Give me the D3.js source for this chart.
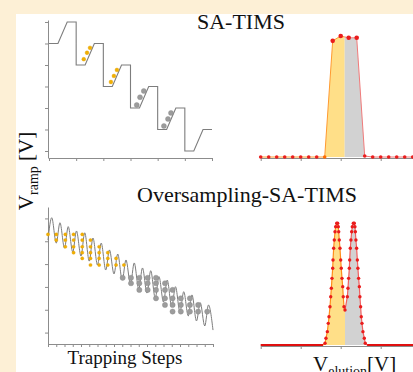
<!DOCTYPE html>
<html>
<head>
<meta charset="utf-8">
<script src="https://cdn.jsdelivr.net/npm/d3@7"></script>
<style>
  body { margin: 0; background: #fdf0d6; }
  svg { display: block; }
  text { font-family: "Liberation Serif", "Times New Roman", serif; fill: #111; }
</style>
</head>
<body>
<svg id="chart" width="413" height="372"></svg>
<script>
// ---- data ----

// SA-TIMS ramp (top left), x = trapping step, y = ramp level
const stairX = [0, 0.33, 0.67, 1, 1, 1.33, 1.67, 2, 2, 2.33, 2.67, 3, 3, 3.33, 3.67, 4, 4, 4.33, 4.67, 5, 5, 5.33, 5.67, 6]
const stairY = [5, 5, 6, 6, 4, 4, 5, 5, 3, 3, 4, 4, 2, 2, 3, 3, 1, 1, 2, 2, 0, 0, 1, 1]
const stairOrangeX = [1.28, 1.40, 1.51, 2.28, 2.39, 2.50]
const stairOrangeY = [4.27, 4.57, 4.80, 3.21, 3.49, 3.77]
const stairGrayX = [3.23, 3.35, 3.49, 4.23, 4.38, 4.49]
const stairGrayY = [2.14, 2.50, 2.79, 1.16, 1.49, 1.77]

// SA-TIMS elution (top right)
const satX = [0, 1, 2, 3, 4, 5, 6, 7, 8, 9, 10, 11, 12, 13, 14, 15, 16, 17, 18, 19]
const satY = [0, 0, 0, 0, 0, 0, 0, 0, 0, 96, 100, 98.5, 98.5, 0.8, 0, 0, 0, 0, 0, 0]
const satSplit = 10.5

// Oversampling ramp (bottom left): troughs at each step, peaks in between
const waveTrough = [4.05, 3.92, 3.70, 3.53, 3.35, 3.13, 2.96, 2.74, 2.57, 2.30, 2.13, 1.91, 1.73, 1.51, 1.34, 1.12, 0.90, 0.73, 0.51, 0.29, 0.11]
const wavePeak = [5.03, 4.81, 4.64, 4.45, 4.37, 4.14, 3.92, 3.62, 3.44, 3.18, 3.05, 2.83, 2.71, 2.45, 2.30, 2.01, 1.79, 1.65, 1.31, 1.21]
const peakOffset = 0.45

const orangeColX = [0, 1, 2.1, 3.1, 4.15, 5.15, 6.2, 7.25, 8.25, 9.2]
const orangeRows = [4.30, 4.05, 3.76, 3.50, 3.25, 2.96]
const orangeFrom = [0, 0, 0, 0, 0, 1, 2, 3, 4, 5]
const orangeTo = [0, 1, 2, 3, 4, 5, 5, 5, 5, 5]

const grayColX = [9.05, 10.06, 11.07, 12.08, 13.09, 14.18, 15.1, 16.1, 17.2, 18.2, 19.3]
const grayRows = [2.40, 2.16, 1.87, 1.50, 1.21, 0.92]
const grayFrom = [0, 0, 0, 0, 0, 1, 2, 3, 3, 4, 5]
const grayTo = [0, 1, 2, 2, 3, 4, 5, 5, 5, 5, 5]

// Oversampling elution (bottom right)
const ovsX = [0, 7.79, 8.04, 8.16, 8.33, 8.45, 8.54, 8.66, 8.75, 8.83, 8.91, 9.0, 9.04, 9.12, 9.2, 9.29, 9.37, 9.5, 9.62, 9.7, 9.75, 9.82, 9.91, 10.0, 10.07, 10.16, 10.25, 10.32, 10.41,
  10.54, 10.83, 10.91, 10.99, 11.08, 11.12, 11.2, 11.28, 11.37, 11.45, 11.58, 11.70, 11.78, 11.83, 11.9, 11.99, 12.08, 12.15, 12.24, 12.33, 12.4, 12.49, 12.57, 12.66, 12.78, 12.95, 13.07, 13.3, 19.5]
const ovsY = [0, 0, 1.4, 5.5, 10.9, 17.7, 23.1, 31.3, 39.5, 46.4, 54.5, 62.7, 69.5, 79.1, 85.9, 92.6, 96.7, 99.5, 99.5, 96.7, 92.6, 85.9, 79.1, 69.5, 62.7, 54.5, 47.7, 39.5, 31.3,
  28.6, 39.5, 46.4, 54.5, 62.7, 69.5, 79.1, 85.9, 92.6, 96.7, 99.5, 99.5, 96.7, 92.6, 85.9, 79.1, 69.5, 62.7, 54.5, 47.7, 39.5, 31.3, 23.1, 17.7, 10.9, 5.5, 1.4, 0, 0]
const ovsSplit = 10.54

// ticks
const stairTicksX = [0, 1, 2, 3, 4, 5, 6]
const stairTicksY = [0, 1, 2, 3, 4, 5, 6]
const waveTicksX = [0, 1, 2, 3, 4, 5, 6, 7, 8, 9, 10, 11, 12, 13, 14, 15, 16, 17, 18, 19, 20]
const waveTicksY = [0, 1, 2, 3, 4, 5]
const elutionTicks = [0, 5, 10, 15]

// ---- drawing ----
const axisColor = "#8c8c8c"
const lineGray = "#7d7d7d"
const orange = "#f2b000"
const orangeFill = "#ffdf88"
const grayFill = "#d2d2d2"
const red = "#ea1c1c"

const svg = d3.select("#chart")

// white panel
svg.append("rect").attr("x", 16).attr("y", 14).attr("width", 397).attr("height", 358).attr("fill", "#fff")

function styleAxis(g) {
  g.select(".domain").attr("stroke", axisColor)
  g.selectAll(".tick line").attr("stroke", axisColor)
}

// top left: SA-TIMS ramp
const x1 = d3.scaleLinear().domain([0, 6]).range([49, 212])
const y1 = d3.scaleLinear().domain([-0.326, 6.093]).range([158, 20])

svg.append("g").attr("transform", "translate(0,158)")
  .call(d3.axisBottom(x1).tickValues(stairTicksX).tickSize(3).tickSizeOuter(0).tickFormat(""))
  .call(styleAxis)
svg.append("g").attr("transform", "translate(48,0)")
  .call(d3.axisLeft(y1).tickValues(stairTicksY).tickSize(3).tickSizeOuter(0).tickFormat(""))
  .call(styleAxis)

const stairLine = d3.line().x(d => x1(d[0])).y(d => y1(d[1]))
svg.append("path")
  .attr("d", stairLine(d3.zip(stairX, stairY)))
  .attr("fill", "none").attr("stroke", lineGray).attr("stroke-width", 1.1)

svg.selectAll("circle.so")
  .data(d3.zip(stairOrangeX, stairOrangeY))
  .join("circle").attr("class", "so")
  .attr("cx", d => x1(d[0])).attr("cy", d => y1(d[1])).attr("r", 1.9)
  .attr("fill", orange).attr("stroke", "#e09d00").attr("stroke-width", 0.4)
svg.selectAll("circle.sg")
  .data(d3.zip(stairGrayX, stairGrayY))
  .join("circle").attr("class", "sg")
  .attr("cx", d => x1(d[0])).attr("cy", d => y1(d[1])).attr("r", 2.5)
  .attr("fill", "#9c9c9c").attr("stroke", "#888").attr("stroke-width", 0.4)

// top right: SA-TIMS elution
const x2 = d3.scaleLinear().domain([0, 19]).range([260.7, 412.7])
const y2 = d3.scaleLinear().domain([0, 100]).range([157, 36])

const defs = svg.append("defs")
function splitClips(id, xs, split, top, bottom) {
  defs.append("clipPath").attr("id", id + "L").append("rect")
    .attr("x", xs(0)).attr("y", top).attr("width", xs(split) - xs(0)).attr("height", bottom - top)
  defs.append("clipPath").attr("id", id + "R").append("rect")
    .attr("x", xs(split)).attr("y", top).attr("width", 420 - xs(split)).attr("height", bottom - top)
}
splitClips("sat", x2, satSplit, 20, 160)

const satData = d3.zip(satX, satY)
const satArea = d3.area().x(d => x2(d[0])).y0(y2(0)).y1(d => y2(d[1]))
const satLine = d3.line().x(d => x2(d[0])).y(d => y2(d[1]))

svg.append("path").attr("d", satArea(satData)).attr("fill", orangeFill).attr("clip-path", "url(#satL)")
svg.append("path").attr("d", satArea(satData)).attr("fill", grayFill).attr("clip-path", "url(#satR)")

svg.append("g").attr("transform", "translate(0,158)")
  .call(d3.axisBottom(x2).tickValues(elutionTicks).tickSize(3).tickSizeOuter(0).tickFormat(""))
  .call(styleAxis)

svg.append("path").attr("d", satLine(satData)).attr("fill", "none")
  .attr("stroke", "#ff9a30").attr("stroke-width", 1).attr("clip-path", "url(#satL)")
svg.append("path").attr("d", satLine(satData)).attr("fill", "none")
  .attr("stroke", "#f07a7a").attr("stroke-width", 1).attr("clip-path", "url(#satR)")

svg.selectAll("circle.sat")
  .data(satData)
  .join("circle").attr("class", "sat")
  .attr("cx", d => x2(d[0])).attr("cy", d => y2(d[1]))
  .attr("r", d => d[1] > 50 ? 2.3 : 1.8)
  .attr("fill", (d, i) => (i > 0 && satData[i + 1] && satData[i + 1][1] > 50 && d[1] < 50) ? "#ff6a00" : red)

// bottom left: oversampling ramp
const x3 = d3.scaleLinear().domain([0, 20]).range([48, 213])
const y3 = d3.scaleLinear().domain([-0.5, 5.5]).range([344, 207])

svg.append("g").attr("transform", "translate(0,344)")
  .call(d3.axisBottom(x3).tickValues(waveTicksX).tickSize(3).tickSizeOuter(0).tickFormat(""))
  .call(styleAxis)
svg.append("g").attr("transform", "translate(48,0)")
  .call(d3.axisLeft(y3).tickValues(waveTicksY).tickSize(3).tickSizeOuter(0).tickFormat(""))
  .call(styleAxis)

const wavePts = []
waveTrough.forEach((t, k) => {
  wavePts.push([k, t])
  if (k < wavePeak.length) wavePts.push([k + peakOffset, wavePeak[k]])
})
const waveLine = d3.line().x(d => x3(d[0])).y(d => y3(d[1])).curve(d3.curveMonotoneX)
svg.append("path").attr("d", waveLine(wavePts))
  .attr("fill", "none").attr("stroke", lineGray).attr("stroke-width", 1)

const orangeDots = []
orangeColX.forEach((cx, c) => {
  for (let r = orangeFrom[c]; r <= orangeTo[c]; r++) orangeDots.push([cx, orangeRows[r]])
})
const grayDots = []
grayColX.forEach((cx, c) => {
  for (let r = grayFrom[c]; r <= grayTo[c]; r++) grayDots.push([cx, grayRows[r]])
})

svg.selectAll("circle.wg")
  .data(grayDots)
  .join("circle").attr("class", "wg")
  .attr("cx", d => x3(d[0])).attr("cy", d => y3(d[1])).attr("r", 2.6)
  .attr("fill", "#9c9c9c").attr("stroke", "#888").attr("stroke-width", 0.4)
svg.selectAll("circle.wo")
  .data(orangeDots)
  .join("circle").attr("class", "wo")
  .attr("cx", d => x3(d[0])).attr("cy", d => y3(d[1])).attr("r", 1.6)
  .attr("fill", orange).attr("stroke", "#e09d00").attr("stroke-width", 0.4)

// bottom right: oversampling elution
const x4 = d3.scaleLinear().domain([0, 19]).range([260.7, 412.7])
const y4 = d3.scaleLinear().domain([0, 100]).range([345, 222.7])
splitClips("ovs", x4, ovsSplit, 210, 350)

const ovsData = d3.zip(ovsX, ovsY)
const ovsArea = d3.area().x(d => x4(d[0])).y0(y4(0)).y1(d => y4(d[1]))
const ovsLine = d3.line().x(d => x4(d[0])).y(d => y4(d[1]))

svg.append("path").attr("d", ovsArea(ovsData)).attr("fill", orangeFill).attr("clip-path", "url(#ovsL)")
svg.append("path").attr("d", ovsArea(ovsData)).attr("fill", grayFill).attr("clip-path", "url(#ovsR)")

svg.append("g").attr("transform", "translate(0,346)")
  .call(d3.axisBottom(x4).tickValues(elutionTicks).tickSize(3).tickSizeOuter(0).tickFormat(""))
  .call(styleAxis)

svg.append("path").attr("d", ovsLine(ovsData)).attr("fill", "none")
  .attr("stroke", "#ff8c1a").attr("stroke-width", 1.2).attr("clip-path", "url(#ovsL)")
svg.append("path").attr("d", ovsLine(ovsData)).attr("fill", "none")
  .attr("stroke", "#f06060").attr("stroke-width", 1.2).attr("clip-path", "url(#ovsR)")

// baseline stretch drawn heavier
svg.append("path")
  .attr("d", ovsLine.defined(d => d[1] === 0)(ovsData))
  .attr("fill", "none").attr("stroke", "#e01010").attr("stroke-width", 2.2)

svg.selectAll("circle.ovs")
  .data(ovsData.filter(d => d[1] > 0))
  .join("circle").attr("class", "ovs")
  .attr("cx", d => x4(d[0])).attr("cy", d => y4(d[1])).attr("r", 1.7)
  .attr("fill", red)

// ---- text ----
svg.append("text").attr("x", 241).attr("y", 29).attr("text-anchor", "middle")
  .attr("font-size", 22).text("SA-TIMS")
svg.append("text").attr("x", 247).attr("y", 201.5).attr("text-anchor", "middle")
  .attr("font-size", 22).text("Oversampling-SA-TIMS")
svg.append("text").attr("x", 125).attr("y", 364).attr("text-anchor", "middle")
  .attr("font-size", 19).text("Trapping Steps")

const vel = svg.append("text").attr("x", 313).attr("y", 371).attr("font-size", 21)
vel.append("tspan").text("V")
vel.append("tspan").attr("font-size", 14).attr("dy", 5).text("elution")
vel.append("tspan").attr("dy", -5).text("[V]")

const vr = svg.append("text").attr("transform", "translate(33,171) rotate(-90)")
  .attr("text-anchor", "middle").attr("font-size", 21)
vr.append("tspan").text("V")
vr.append("tspan").attr("font-size", 14).attr("dy", 5).text("ramp")
vr.append("tspan").attr("dy", -5).text(" [V]")
</script>
</body>
</html>
